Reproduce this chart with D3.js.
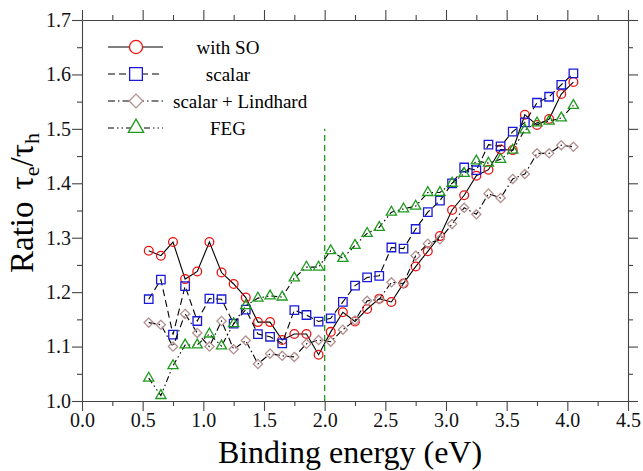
<!DOCTYPE html>
<html>
<head>
<meta charset="utf-8">
<script src="https://cdn.jsdelivr.net/npm/d3@7"></script>
<style>
  body {margin: 0; background: #fff;}
  svg, svg text {font-family: "Liberation Serif", "Times New Roman", serif;}
</style>
</head>
<body>
<div class="chart"></div>
<script>
var energy = [0.55, 0.65, 0.75, 0.85, 0.95, 1.05, 1.15, 1.25, 1.35, 1.45, 1.55, 1.65,
  1.75, 1.85, 1.95, 2.05, 2.15, 2.25, 2.35, 2.45, 2.55, 2.65, 2.75, 2.85,
  2.95, 3.05, 3.15, 3.25, 3.35, 3.45, 3.55, 3.65, 3.75, 3.85, 3.95, 4.05]

var withSO = [1.276, 1.267, 1.292, 1.224, 1.238, 1.292, 1.236, 1.215, 1.190, 1.145, 1.145, 1.112,
  1.123, 1.123, 1.085, 1.127, 1.163, 1.146, 1.169, 1.188, 1.182, 1.216, 1.247, 1.275,
  1.303, 1.351, 1.378, 1.414, 1.425, 1.462, 1.461, 1.526, 1.507, 1.518, 1.564, 1.586]

var scalar = [1.187, 1.223, 1.122, 1.211, 1.147, 1.188, 1.187, 1.142, 1.168, 1.123, 1.118, 1.106,
  1.167, 1.158, 1.146, 1.152, 1.182, 1.212, 1.227, 1.230, 1.282, 1.280, 1.316, 1.347,
  1.368, 1.400, 1.429, 1.424, 1.471, 1.468, 1.495, 1.512, 1.548, 1.559, 1.581, 1.602]

var lindhard = [1.144, 1.140, 1.100, 1.160, 1.125, 1.100, 1.147, 1.095, 1.111, 1.068, 1.087, 1.083,
  1.081, 1.105, 1.112, 1.109, 1.131, 1.148, 1.184, 1.187, 1.218, 1.216, 1.267, 1.289,
  1.297, 1.325, 1.355, 1.343, 1.381, 1.373, 1.408, 1.417, 1.455, 1.455, 1.470, 1.467]

var feg = [1.042, 1.010, 1.065, 1.103, 1.103, 1.123, 1.101, 1.142, 1.175, 1.189, 1.193, 1.191,
  1.226, 1.246, 1.246, 1.276, 1.262, 1.286, 1.308, 1.319, 1.347, 1.353, 1.358, 1.383,
  1.383, 1.400, 1.418, 1.441, 1.437, 1.444, 1.461, 1.498, 1.511, 1.514, 1.520, 1.543]

var seriesNames = ['with SO', 'scalar', 'scalar + Lindhard', 'FEG']
var xTickValues = [0, 0.5, 1, 1.5, 2, 2.5, 3, 3.5, 4, 4.5]
var xMinorValues = [0.25, 0.75, 1.25, 1.75, 2.25, 2.75, 3.25, 3.75, 4.25]
var yTickValues = [1.0, 1.1, 1.2, 1.3, 1.4, 1.5, 1.6, 1.7]
var yMinorValues = [1.05, 1.15, 1.25, 1.35, 1.45, 1.55, 1.65]
var markerLine = {x: 2.0, y0: 1.0, y1: 1.5}

var width = 643, height = 471
var margin = {left: 82, right: 15, top: 20, bottom: 70}
var serif = '"Liberation Serif", "Times New Roman", serif'

var svg = d3.select('.chart').append('svg')
  .attr('width', width).attr('height', height)
  .attr('font-family', serif)

var x = d3.scaleLinear().domain([0, 4.5]).range([margin.left, width - margin.right])
var y = d3.scaleLinear().domain([1.0, 1.7]).range([height - margin.bottom, margin.top])

var axisColor = '#444'

function drawAxis(axisFn, scale, ticks, minor, transform, fmt){
  var g = svg.append('g').attr('transform', transform)
  g.call(axisFn(scale).tickValues(ticks).tickSize(10).tickSizeOuter(0).tickFormat(fmt))
  g.append('g').call(axisFn(scale).tickValues(minor).tickSize(5).tickFormat(''))
    .select('.domain').remove()
  g.selectAll('g').attr('font-family', null)
  g.attr('font-family', serif)
  g.selectAll('line, path').attr('stroke', axisColor).attr('stroke-width', 1.1)
  g.selectAll('text').attr('font-size', 20).attr('fill', '#111')
  return g
}

var fmt = d3.format('.1f')
var bottom = drawAxis(d3.axisBottom, x, xTickValues, xMinorValues, `translate(0,${y(1.0)})`, fmt)
bottom.selectAll('text').attr('dy', '0.95em').attr('y', 7)
var left = drawAxis(d3.axisLeft, y, yTickValues, yMinorValues, `translate(${x(0)},0)`, fmt)
left.selectAll('text').attr('x', -11)
drawAxis(d3.axisTop, x, xTickValues, xMinorValues, `translate(0,${y(1.7)})`, '')
drawAxis(d3.axisRight, y, yTickValues, yMinorValues, `translate(${x(4.5)},0)`, '')

// vertical marker at 2 eV
svg.append('line')
  .attr('x1', x(markerLine.x)).attr('x2', x(markerLine.x))
  .attr('y1', y(markerLine.y0)).attr('y2', y(markerLine.y1))
  .attr('stroke', '#1f9a1f').attr('stroke-width', 1.3).attr('stroke-dasharray', '6,4')

var styles = [
  {values: withSO, color: '#ee1111', dash: null, shape: 'circle'},
  {values: scalar, color: '#1a1ad6', dash: '7,4', shape: 'square'},
  {values: lindhard, color: '#b49090', dash: '7,3,1.5,3', shape: 'diamond'},
  {values: feg, color: '#1f9a1f', dash: '6,3,1.5,3,1.5,3', shape: 'triangle'},
]

// k scales the marker: 1 in the plot, bigger in the legend
function markerPath(shape, k){
  if (shape == 'circle') return d3.symbol(d3.symbolCircle, 60 * k * k)()
  if (shape == 'square') return d3.symbol(d3.symbolSquare, 72 * k * k)()
  if (shape == 'triangle') return d3.symbol(d3.symbolTriangle, 45 * k * k)()
  var r = 4.6 * k
  return `M0,${-r}L${r},0L0,${r}L${-r},0Z`
}

var line = d3.line()
  .x((d, i) => x(energy[i]))
  .y(d => y(d))

styles.forEach(s => {
  svg.append('path')
    .attr('d', line(s.values))
    .attr('fill', 'none').attr('stroke', '#000').attr('stroke-width', 1.1)
    .attr('stroke-dasharray', s.dash)

  svg.selectAll(null).data(s.values).enter().append('path')
    .attr('d', markerPath(s.shape, 1))
    .attr('transform', (d, i) => `translate(${x(energy[i])},${y(d)})`)
    .attr('fill', 'none').attr('stroke', s.color).attr('stroke-width', 1.3)
})

// legend
var legend = svg.append('g').attr('transform', 'translate(108,47)')
var legendRows = legend.selectAll('g').data(seriesNames).enter().append('g')
  .attr('transform', (d, i) => `translate(0,${i * 27})`)

legendRows.append('line')
  .attr('x1', 0).attr('x2', 55)
  .attr('stroke', '#000').attr('stroke-width', 1.1)
  .attr('stroke-dasharray', (d, i) => styles[i].dash)

legendRows.append('path')
  .attr('d', (d, i) => markerPath(styles[i].shape, 1.5))
  .attr('transform', 'translate(28,0)')
  .attr('fill', '#fff').attr('stroke', (d, i) => styles[i].color).attr('stroke-width', 1.3)

legendRows.append('text')
  .attr('x', (d, i) => i == 2 ? 65 : 120)
  .attr('text-anchor', (d, i) => i == 2 ? 'start' : 'middle')
  .attr('dy', '0.35em')
  .attr('font-size', 19)
  .text(d => d)

// axis titles
svg.append('text')
  .attr('x', x(2.25) - 5).attr('y', 463)
  .attr('text-anchor', 'middle')
  .attr('font-size', 32)
  .text('Binding energy (eV)')

var ylab = svg.append('text')
  .attr('transform', 'translate(33,273) rotate(-90)')
  .attr('font-size', 33)
ylab.append('tspan').text('Ratio')
ylab.append('tspan').attr('dx', 12).text('τ')
ylab.append('tspan').attr('font-size', 22).attr('dy', 6).text('e')
ylab.append('tspan').attr('dy', -6).text('/τ')
ylab.append('tspan').attr('font-size', 22).attr('dy', 6).text('h')
</script>
</body>
</html>
